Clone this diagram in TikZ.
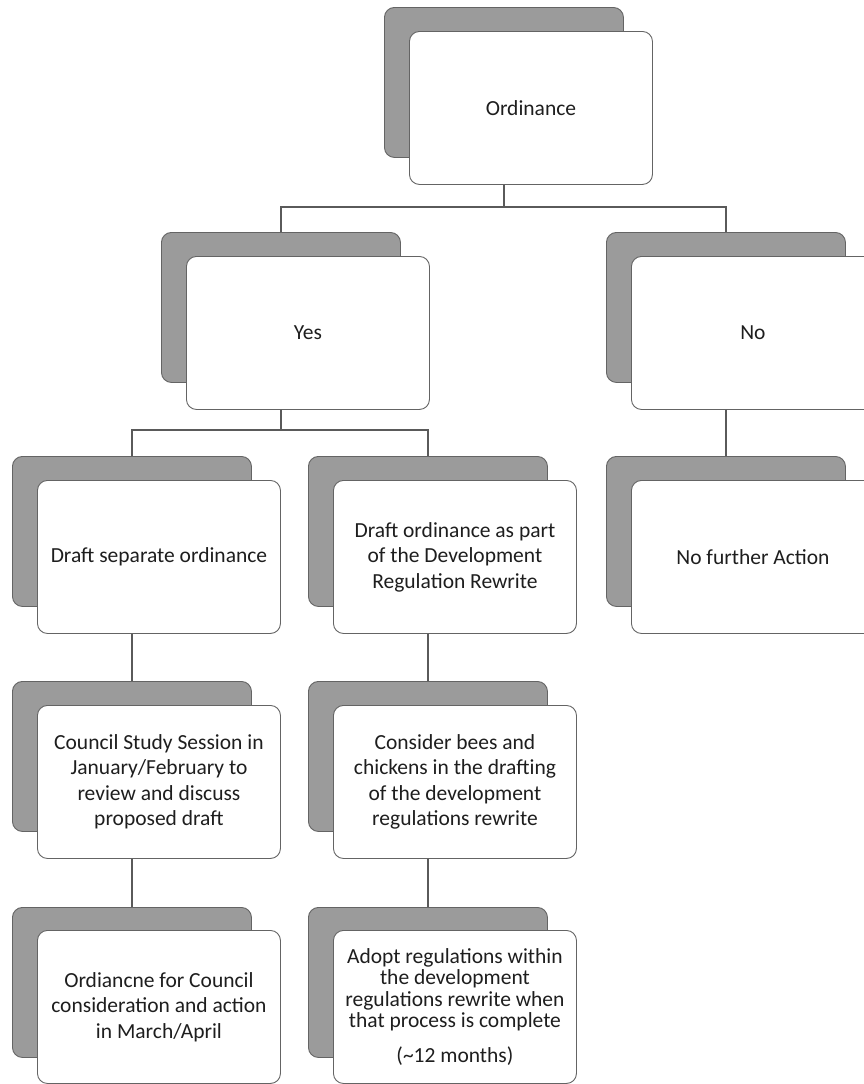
\documentclass[tikz,border=0pt]{standalone}
\usepackage{fontspec}
\setmainfont{Carlito}
\definecolor{shade}{RGB}{155,155,155}
\definecolor{edge}{RGB}{100,100,100}
\definecolor{ink}{RGB}{30,30,30}
\definecolor{wire}{RGB}{90,90,90}
\begin{document}
\begin{tikzpicture}[x=1pt,y=-1pt,
  backbox/.style={draw=edge, line width=0.9pt, fill=shade, rounded corners=10pt,
    minimum width=239pt, minimum height=150pt, inner sep=0pt, anchor=north west},
  frontbox/.style={draw=edge, line width=0.9pt, fill=white, rounded corners=10pt,
    minimum width=243pt, minimum height=153pt, inner sep=4pt, anchor=north west,
    align=center, text=ink, font=\fontsize{21.5}{25.5}\selectfont},
  wireline/.style={draw=wire, line width=1.1pt}]
\clip (0,0) rectangle (864,1084);
\fill[white] (0,0) rectangle (864,1084);
% level 1
\node[backbox] (ordg) at (384,7) {};
\node[frontbox] (ordw) at (409,31) {Ordinance};
% level 2
\node[backbox] (yesg) at (161,232) {};
\node[frontbox] (yesw) at (186,256) {Yes};
\node[backbox] (nog) at (606,232) {};
\node[frontbox] (now) at (631,256) {No};
% level 3
\node[backbox] (sepg) at (12,456) {};
\node[frontbox] (sepw) at (37,480) {Draft separate ordinance};
\node[backbox] (devg) at (308,456) {};
\node[frontbox] (devw) at (333,480) {Draft ordinance as part\\of the Development\\Regulation Rewrite};
\node[backbox] (nfag) at (606,456) {};
\node[frontbox] (nfaw) at (631,480) {No further Action};
% level 4
\node[backbox] (cssg) at (12,681) {};
\node[frontbox] (cssw) at (37,705) {Council Study Session in\\January/February to\\review and discuss\\proposed draft};
\node[backbox] (cbcg) at (308,681) {};
\node[frontbox] (cbcw) at (333,705) {Consider bees and\\chickens in the drafting\\of the development\\regulations rewrite};
% level 5
\node[backbox] (occg) at (12,907) {};
\node[frontbox] (occw) at (37,930) {Ordiancne for Council\\consideration and action\\in March/April};
\node[backbox] (adpg) at (308,907) {};
\node[frontbox, font=\fontsize{21.5}{21.5}\selectfont] (adpw) at (333,930)
  {Adopt regulations within\\the development\\regulations rewrite when\\that process is complete\\[13pt](\textasciitilde12 months)};
% connectors
\draw[wireline] (yesg.north) -- ++(0,-25) coordinate (j1) -| (nog.north);
\draw[wireline] (ordw.south -| ordg.center) -- (j1 -| ordg.center);
\draw[wireline] (sepg.north) -- ++(0,-26) coordinate (j2) -| (devg.north);
\draw[wireline] (yesw.south -| yesg.center) -- (j2 -| yesg.center);
\draw[wireline] (now.south -| nog.center) -- (nfag.north);
\draw[wireline] (sepw.south -| sepg.center) -- (cssg.north);
\draw[wireline] (devw.south -| devg.center) -- (cbcg.north);
\draw[wireline] (cssw.south -| cssg.center) -- (occg.north);
\draw[wireline] (cbcw.south -| cbcg.center) -- (adpg.north);
\end{tikzpicture}
\end{document}
